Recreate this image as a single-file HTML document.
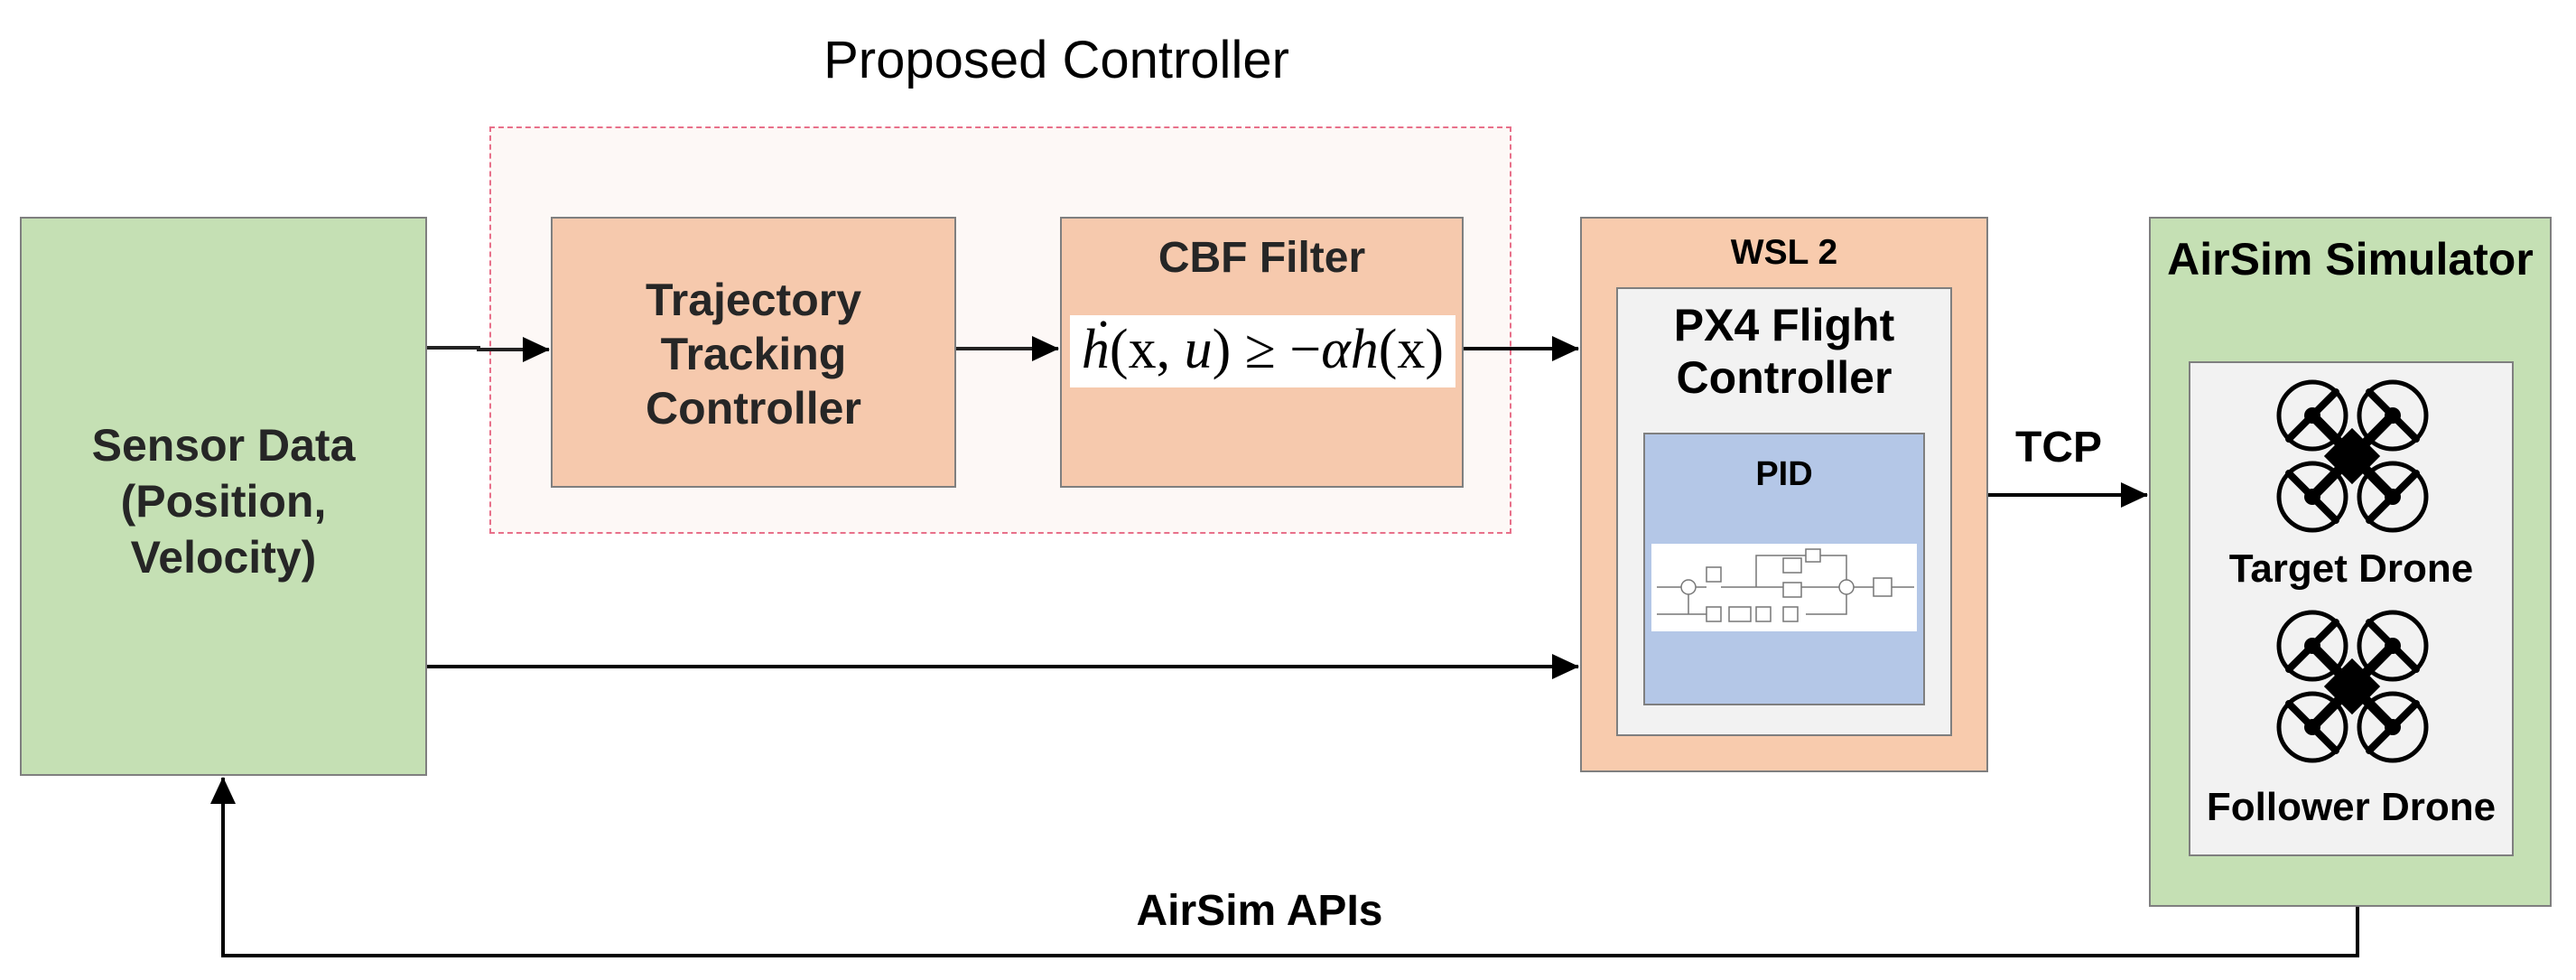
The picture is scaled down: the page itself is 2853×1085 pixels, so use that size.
<!DOCTYPE html>
<html><head><meta charset="utf-8"><style>
body{margin:0;width:2853px;height:1085px;background:#fff;position:relative;overflow:hidden;font-family:"Liberation Sans",Arial,sans-serif}
.b{position:absolute;box-sizing:border-box;border:2px solid #7f7f7f}
.t{position:absolute;text-align:center;font-weight:bold;color:#262626;line-height:1;white-space:nowrap}
</style></head><body>
<div class="t" style="left:770px;top:38px;width:800px;font-size:58px;font-weight:normal;color:#000">Proposed Controller</div>
<div style="position:absolute;left:542px;top:140px;width:1132px;height:451px;box-sizing:border-box;border:2px dashed #e8708a;background:#fdf8f6"></div>
<div class="b" style="left:22px;top:240px;width:451px;height:619px;background:#c5e0b4"></div>
<div class="b" style="left:610px;top:240px;width:449px;height:300px;background:#f6c9ad"></div>
<div class="b" style="left:1174px;top:240px;width:447px;height:300px;background:#f6c9ad"></div>
<div style="position:absolute;left:1185px;top:349px;width:427px;height:80px;background:#fff"></div>
<div class="b" style="left:1750px;top:240px;width:452px;height:615px;background:#f8cbad"></div>
<div class="b" style="left:1790px;top:318px;width:372px;height:497px;background:#f2f2f2"></div>
<div class="b" style="left:1820px;top:479px;width:312px;height:302px;background:#b4c7e7"></div>
<div style="position:absolute;left:1829px;top:602px;width:294px;height:97px;background:#fff"></div>
<div class="b" style="left:2380px;top:240px;width:446px;height:764px;background:#c5e0b4"></div>
<div class="b" style="left:2424px;top:400px;width:360px;height:548px;background:#f2f2f2"></div>

<div class="t" style="left:0px;top:462px;width:495px;font-size:50px;line-height:62px">Sensor Data<br>(Position,<br>Velocity)</div>
<div class="t" style="left:610px;top:302px;width:449px;font-size:50px;line-height:60px">Trajectory<br>Tracking<br>Controller</div>
<div class="t" style="left:1174px;top:262px;width:447px;font-size:48px">CBF Filter</div>
<div style="position:absolute;left:1185px;top:356px;width:427px;text-align:center;font-family:'Liberation Serif',serif;font-size:62px;font-style:italic;line-height:1;white-space:nowrap">ḣ<span style="font-style:normal">(x,</span> u<span style="font-style:normal">) ≥ −</span>αh<span style="font-style:normal">(x)</span></div>
<div class="t" style="left:1750px;top:260px;width:452px;font-size:39px;color:#000">WSL 2</div>
<div class="t" style="left:1770px;top:331px;width:412px;font-size:50px;line-height:58px;color:#000">PX4 Flight<br>Controller</div>
<div class="t" style="left:1820px;top:506px;width:312px;font-size:38px;color:#000">PID</div>
<div class="t" style="left:2370px;top:262px;width:466px;font-size:50px;color:#000">AirSim Simulator</div>
<div class="t" style="left:2404px;top:608px;width:400px;font-size:44px;color:#000">Target Drone</div>
<div class="t" style="left:2404px;top:872px;width:400px;font-size:44px;color:#000">Follower Drone</div>
<div class="t" style="left:2180px;top:472px;width:200px;font-size:48px;color:#000">TCP</div>
<div class="t" style="left:1195px;top:985px;width:400px;font-size:48px;color:#000">AirSim APIs</div>

<svg width="2853" height="1085" style="position:absolute;left:0;top:0">
<defs>
<marker id="a" markerWidth="30" markerHeight="28" refX="29" refY="14" orient="auto" markerUnits="userSpaceOnUse" viewBox="0 0 30 28"><path d="M0,0L30,14L0,28z" fill="#000"/></marker>
<g id="dr">
<g fill="none" stroke="#000" stroke-width="5">
<circle cx="-44" cy="-45" r="37"/><circle cx="45" cy="-45" r="37"/>
<circle cx="-44" cy="45" r="37"/><circle cx="45" cy="45" r="37"/>
</g>
<path d="M-44,-45L45,45M45,-45L-44,45" stroke="#000" stroke-width="11"/>
<rect x="-22" y="-22" width="44" height="44" fill="#000" transform="rotate(45)"/>
<g stroke="#000" stroke-width="8" stroke-linecap="round">
<path d="M-70,-19L-18,-71"/><path d="M19,-71L71,-19"/><path d="M-70,19L-18,71"/><path d="M19,71L71,19"/>
</g>
<g fill="#000"><circle cx="-44" cy="-45" r="9"/><circle cx="45" cy="-45" r="9"/><circle cx="-44" cy="45" r="9"/><circle cx="45" cy="45" r="9"/></g>
</g>
</defs>
<g stroke="#000" stroke-width="4" fill="none">
<path d="M473,385H530V387H608" stroke="#222" marker-end="url(#a)"/>
<path d="M1059,386H1172" stroke="#222" marker-end="url(#a)"/>
<path d="M1621,386H1748" marker-end="url(#a)"/>
<path d="M473,738H1748" marker-end="url(#a)"/>
<path d="M2202,548H2378" marker-end="url(#a)"/>
<path d="M2611,1004V1058H247V861" marker-end="url(#a)"/>
</g>
<use href="#dr" x="2605" y="505"/>
<use href="#dr" x="2605" y="760"/>
<g stroke="#777" stroke-width="1.5" fill="none">
<rect x="1890" y="628" width="16" height="16"/><rect x="1975" y="618" width="20" height="16"/><rect x="1975" y="645" width="20" height="16"/><rect x="2000" y="608" width="16" height="14"/>
<rect x="1890" y="672" width="16" height="16"/><rect x="1915" y="672" width="24" height="16"/><rect x="1945" y="672" width="16" height="16"/><rect x="1975" y="672" width="16" height="16"/>
<rect x="2075" y="640" width="20" height="20"/><circle cx="1870" cy="650" r="8"/><circle cx="2045" cy="650" r="8"/>
<path d="M1835,650H1862M1878,650H1890M1906,650H1975M1995,650H2037M2053,650H2075M2095,650H2120M1945,650V615H2000M2016,615H2045V642M1835,680H1890M1870,658V680M2000,680H2045V658"/>
</g>
</svg>
</body></html>
